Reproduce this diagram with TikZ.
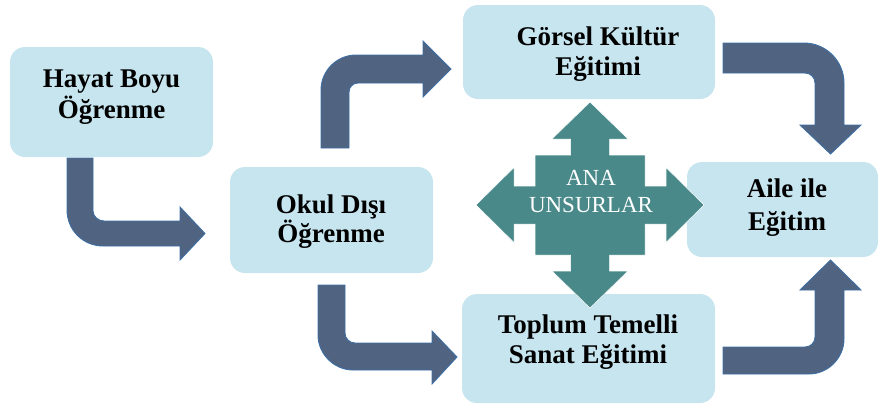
\documentclass[tikz,border=0pt]{standalone}
\usepackage{fontspec}
\setmainfont{Liberation Serif}
\definecolor{boxblue}{RGB}{198,229,239}
\definecolor{arrowfill}{RGB}{80,99,128}
\definecolor{arrowline}{RGB}{62,112,165}
\definecolor{crossteal}{RGB}{74,137,137}
\begin{document}
\begin{tikzpicture}[x=1pt,y=-1pt,
  box/.style={fill=boxblue, rounded corners=15pt, draw=none, inner sep=0pt},
  lbl/.style={font=\bfseries\fontsize{27}{30}\selectfont, align=center, anchor=base, inner sep=0pt, text=black},
  bent/.style={fill=arrowfill, draw=arrowline, line width=0.9pt, line join=miter},
  crossstyle/.style={fill=crossteal, draw=white, line width=0.5pt, line join=miter}
]
\useasboundingbox (0,0) rectangle (880,405);

% boxes
\node[box, minimum width=203pt, minimum height=110pt] (hb) at (111.5,102) {};
\node[box, minimum width=203pt, minimum height=106pt] (od) at (331.5,220) {};
\node[box, minimum width=252pt, minimum height=94pt] (gk) at (589,52) {};
\node[box, minimum width=191pt, minimum height=95pt] (ae) at (782.5,209.5) {};
\node[box, minimum width=253pt, minimum height=109pt] (ts) at (588.5,348.5) {};

% texts (anchor=base is the baseline of the last line)
\node[lbl, font=\bfseries\fontsize{27}{31}\selectfont] (hbt) at (111.5,118) {Hayat Boyu\\Öğrenme};
\node[lbl, font=\bfseries\fontsize{27}{29}\selectfont] (odt) at (331,242) {Okul Dışı\\Öğrenme};
\node[lbl] (gkt) at (598,75) {Görsel Kültür\\Eğitimi};
\node[lbl, font=\bfseries\fontsize{27}{33}\selectfont] (aet) at (787,230) {Aile ile\\Eğitim};
\node[lbl] (tst) at (588,363) {Toplum Temelli\\Sanat Eğitimi};

% bent arrows
% Hayat -> Okul
\draw[bent] (67,158) -- (93,158) -- (93,211) .. controls (93,216.5) and (98.5,221) .. (104,221)
  -- (180,221) -- (180,207) -- (205,233.5) -- (180,260) -- (180,246) -- (103,246)
  .. controls (83,246) and (67,230) .. (67,210) -- cycle;
% Okul -> Gorsel
\draw[bent] (321,148) -- (321,90) .. controls (321,70.7) and (336.7,55) .. (356,55)
  -- (423,55) -- (423,41) -- (451,69) -- (423,97) -- (423,83) -- (358,83)
  .. controls (353,83) and (349,87) .. (349,92) -- (349,148) -- cycle;
% Gorsel -> Aile
\draw[bent] (723,43) -- (804,43) .. controls (826,43) and (844,61) .. (844,83)
  -- (844,125) -- (861,125) -- (830.5,154) -- (800,125) -- (815,125) -- (815,83)
  .. controls (815,77.5) and (810.5,73) .. (805,73) -- (723,73) -- cycle;
% Toplum -> Aile
\draw[bent] (723,347) -- (805,347) .. controls (810.5,347) and (815,342.5) .. (815,337)
  -- (815,290) -- (800,290) -- (830.5,260) -- (861,290) -- (844,290) -- (844,339)
  .. controls (844,358) and (828,374) .. (809,374) -- (723,374) -- cycle;
% Okul -> Toplum
\draw[bent] (318,285) -- (345,285) -- (345,333) .. controls (345,338.5) and (349.5,343) .. (355,343)
  -- (432,343) -- (432,331) -- (457,357) -- (432,384) -- (432,370) -- (353,370)
  .. controls (334,370) and (318,354) .. (318,335) -- cycle;

% central cross
\draw[crossstyle] (590,102) -- (628,139) -- (609.5,139) -- (609.5,155) -- (645,155) -- (645,186)
  -- (666,186) -- (666,167.5) -- (704,205) -- (666,242.5) -- (666,224) -- (645,224)
  -- (645,255) -- (609.5,255) -- (609.5,271) -- (628,271) -- (590,308) -- (552,271)
  -- (570.5,271) -- (570.5,255) -- (535,255) -- (535,224) -- (514,224) -- (514,242.5)
  -- (476,205) -- (514,167.5) -- (514,186) -- (535,186) -- (535,155) -- (570.5,155)
  -- (570.5,139) -- (552,139) -- cycle;
\node[font=\fontsize{23}{27}\selectfont, align=center, anchor=base, inner sep=0pt, text=white] (ana) at (591,212) {ANA\\UNSURLAR};
\end{tikzpicture}
\end{document}
